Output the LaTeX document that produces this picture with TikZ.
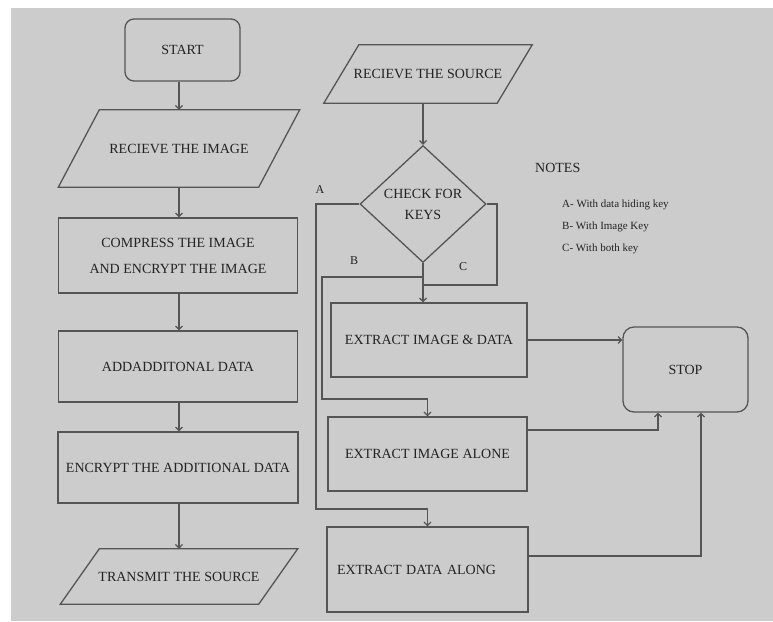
\documentclass[tikz,border=0pt]{standalone}
\usepackage{fontspec}
\setmainfont{Liberation Serif}
\usetikzlibrary{shapes.geometric,arrows.meta,calc}
\definecolor{bgc}{RGB}{204,204,204}
\definecolor{ln}{RGB}{85,85,85}
\definecolor{tx}{RGB}{35,35,35}
\begin{document}
\begin{tikzpicture}[x=1pt,y=-1pt,
  font=\fontsize{14}{16}\selectfont,
  every node/.style={text=tx, inner sep=0pt},
  shapeline/.style={draw=ln, line width=1.3pt},
  boxnode/.style={draw=ln, line width=1.3pt},
  rboxnode/.style={draw=ln, line width=1.3pt, rounded corners=9pt},
  conn/.style={draw=ln, line width=1.2pt},
  arr/.style={draw=ln, line width=1.2pt, -{Straight Barb[length=3.5pt,width=7pt]}},
  lbl/.style={font=\fontsize{12}{14}\selectfont},
  note/.style={anchor=west, font=\fontsize{11}{13}\selectfont}
]
\useasboundingbox (0,0) rectangle (773,621);
\fill[bgc] (11,8) rectangle (773,621);

% left column
\node[rboxnode, minimum width=115pt, minimum height=62pt] (start) at (182.5,50) {START};
\node[minimum width=241pt, minimum height=77pt] (ri) at (179,148.5) {RECIEVE THE IMAGE};
\draw[shapeline] ($(ri.north west)+(41,0)$) -- (ri.north east) -- ($(ri.south east)-(41,0)$) -- (ri.south west) -- cycle;
\node[boxnode, minimum width=239pt, minimum height=75pt, align=center, font=\fontsize{14}{26}\selectfont] (comp) at (178,255.5) {COMPRESS THE IMAGE\\AND ENCRYPT THE IMAGE};
\node[boxnode, minimum width=239pt, minimum height=71pt] (add) at (178,366.5) {ADDADDITONAL DATA};
\node[boxnode, minimum width=240pt, minimum height=71pt] (enc) at (178,467.5) {ENCRYPT THE ADDITIONAL DATA};
\node[minimum width=237pt, minimum height=55pt] (tr) at (179,576.5) {TRANSMIT THE SOURCE};
\draw[shapeline] ($(tr.north west)+(39,0)$) -- (tr.north east) -- ($(tr.south east)-(39,0)$) -- (tr.south west) -- cycle;

\draw[arr] (start.south -| ri.north) -- (ri.north);
\draw[arr] (ri.south) -- (ri.south |- comp.north);
\draw[arr] (ri.south |- comp.south) -- (ri.south |- add.north);
\draw[arr] (ri.south |- add.south) -- (ri.south |- enc.north);
\draw[arr] (ri.south |- enc.south) -- (tr.north);

% right column
\node[minimum width=208pt, minimum height=58pt] (rs) at (428,74) {RECIEVE THE SOURCE};
\draw[shapeline] ($(rs.north west)+(35,0)$) -- (rs.north east) -- ($(rs.south east)-(35,0)$) -- (rs.south west) -- cycle;
\node[diamond, draw=ln, line width=1.3pt, minimum width=126pt, minimum height=117pt, align=center, font=\fontsize{14}{21}\selectfont] (chk) at (423,204) {CHECK FOR\\KEYS};
\draw[arr] (rs.south -| chk.north) -- (chk.north);

\node[boxnode, minimum width=196pt, minimum height=74pt] (eid) at (429,340) {EXTRACT IMAGE \& DATA};
\node[boxnode, minimum width=199pt, minimum height=74pt] (eia) at (427.5,454) {EXTRACT IMAGE ALONE};
\node[boxnode, minimum width=201pt, minimum height=85pt, text width=181pt, align=left, inner xsep=10pt] (eda) at (427.5,569.5) {EXTRACT DATA ALONG};
\node[rboxnode, minimum width=125pt, minimum height=85pt, rounded corners=11pt] (stop) at (685.5,369.5) {STOP};

\coordinate (yA) at (0,509);
\coordinate (yB) at (0,277);
\coordinate (yB2) at (0,399);
\coordinate (yC) at (0,285);
\coordinate (jB) at (chk.south |- yB);
\coordinate (jC) at (chk.south |- yC);
\coordinate (cA) at (eda.north |- yA);
\coordinate (cB) at (eia.north |- yB2);

% trunk from diamond bottom to first extract box
\draw[arr] (chk.south) -- (chk.south |- eid.north);
% A branch
\draw[arr] (chk.west) -- (316,204) -- (316,509) -- (cA) -- (eda.north);
% B branch
\draw[arr] (jB) -- (322,277) -- (322,399) -- (cB) -- (eia.north);
% C branch
\draw[conn] (chk.east) -- (497,204) -- (497,285) -- (jC);

\node[lbl] (la) at (320,190) {A};
\node[lbl] (lb) at (354,261) {B};
\node[lbl] (lc) at (463,267) {C};

% to stop
\draw[arr] (eid.east) -- (eid.east -| stop.west);
\draw[arr] ([yshift=24pt]eia.east) -| ([xshift=-27.5pt]stop.south);
\draw[arr] ([yshift=13.5pt]eda.east) -| ([xshift=15.5pt]stop.south);

% notes
\node[note, font=\fontsize{14}{16}\selectfont] (nt) at (535,168) {NOTES};
\node[note] (n1) at (562,205) {A- With data hiding key};
\node[note] (n2) at (562,227) {B- With Image Key};
\node[note] (n3) at (562,249) {C- With both key};
\end{tikzpicture}
\end{document}
